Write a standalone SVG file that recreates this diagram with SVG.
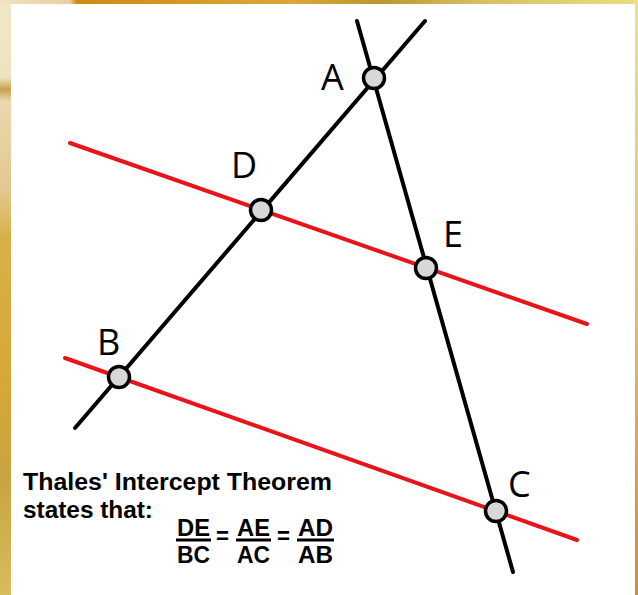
<svg xmlns="http://www.w3.org/2000/svg" width="638" height="595" viewBox="0 0 638 595">
<defs>
<linearGradient id="gl" x1="0" y1="0" x2="0" y2="1">
<stop offset="0" stop-color="#f2e6c8"/>
<stop offset="0.13" stop-color="#efe2c0"/>
<stop offset="0.15" stop-color="#c8a050"/>
<stop offset="0.17" stop-color="#ead8b0"/>
<stop offset="0.32" stop-color="#e2c890"/>
<stop offset="0.4" stop-color="#d8b048"/>
<stop offset="0.65" stop-color="#d4a838"/>
<stop offset="0.8" stop-color="#c8a440"/>
<stop offset="1" stop-color="#d8bc60"/>
</linearGradient>
<linearGradient id="gt" x1="0" y1="0" x2="1" y2="0">
<stop offset="0" stop-color="#efe2c2"/>
<stop offset="0.11" stop-color="#e8d0a0"/>
<stop offset="0.12" stop-color="#d08a10"/>
<stop offset="0.45" stop-color="#d8a838"/>
<stop offset="0.6" stop-color="#b89830"/>
<stop offset="0.75" stop-color="#d8c060"/>
<stop offset="1" stop-color="#ecdc80"/>
</linearGradient>
<linearGradient id="gr" x1="0" y1="0" x2="0" y2="1">
<stop offset="0" stop-color="#f0e288"/>
<stop offset="0.5" stop-color="#e4c060"/>
<stop offset="1" stop-color="#d09028"/>
</linearGradient>
</defs>
<style>
.blk{stroke:#000;stroke-width:4;stroke-linecap:round;fill:none}
.red{stroke:#e8141a;stroke-width:4;stroke-linecap:round;fill:none}
.pt{fill:#d8d8d8;stroke:#000;stroke-width:3.5}
.lbl{font-family:"Open Sans","DejaVu Sans",sans-serif;font-size:36px;fill:#000}
.t{font-family:"Liberation Sans",Arial,sans-serif;font-weight:bold;fill:#000}
.f{font-family:"Liberation Sans",Arial,sans-serif;font-weight:bold;font-size:24px;fill:#000}
.bar{stroke:#000;stroke-width:3}
</style>
<rect x="0" y="0" width="638" height="595" fill="#fff"/>
<rect x="0" y="0" width="11" height="595" fill="url(#gl)"/>
<rect x="0" y="0" width="638" height="4" fill="url(#gt)"/>
<rect x="635" y="0" width="3" height="595" fill="url(#gr)"/>
<rect x="11" y="4" width="624" height="591" fill="#fff"/>

<g id="connectors">
<line class="red" x1="70" y1="143" x2="587" y2="324"/>
<line class="red" x1="65" y1="358" x2="577" y2="540"/>
<line class="blk" x1="425" y1="21" x2="75" y2="428"/>
<line class="blk" x1="357" y1="21" x2="513" y2="572"/>
</g>

<g id="A"><circle class="pt" cx="374" cy="78" r="10.5"/><text class="lbl" x="321" y="90">A</text></g>
<g id="D"><circle class="pt" cx="261" cy="210" r="10.5"/><text class="lbl" x="231" y="178">D</text></g>
<g id="E"><circle class="pt" cx="426" cy="268" r="10.5"/><text class="lbl" x="443" y="247">E</text></g>
<g id="B"><circle class="pt" cx="119" cy="377" r="10.5"/><text class="lbl" x="97" y="355">B</text></g>
<g id="C"><circle class="pt" cx="496" cy="511" r="10.5"/><text class="lbl" x="508" y="497">C</text></g>

<g id="theorem">
<text class="t" x="23" y="490" font-size="23" textLength="309" lengthAdjust="spacingAndGlyphs">Thales' Intercept Theorem</text>
<text class="t" x="23" y="518" font-size="23" textLength="130" lengthAdjust="spacingAndGlyphs">states that:</text>
<text class="f" x="177" y="536" textLength="33" lengthAdjust="spacingAndGlyphs">DE</text>
<line class="bar" x1="176" y1="540" x2="211" y2="540"/>
<text class="f" x="177" y="563" textLength="33" lengthAdjust="spacingAndGlyphs">BC</text>
<text class="f" x="216" y="544" textLength="13" lengthAdjust="spacingAndGlyphs">=</text>
<text class="f" x="237" y="536" textLength="33" lengthAdjust="spacingAndGlyphs">AE</text>
<line class="bar" x1="236" y1="540" x2="271" y2="540"/>
<text class="f" x="237" y="563" textLength="33" lengthAdjust="spacingAndGlyphs">AC</text>
<text class="f" x="277" y="544" textLength="13" lengthAdjust="spacingAndGlyphs">=</text>
<text class="f" x="298" y="536" textLength="35" lengthAdjust="spacingAndGlyphs">AD</text>
<line class="bar" x1="297" y1="540" x2="334" y2="540"/>
<text class="f" x="298" y="563" textLength="35" lengthAdjust="spacingAndGlyphs">AB</text>
</g>
</svg>
